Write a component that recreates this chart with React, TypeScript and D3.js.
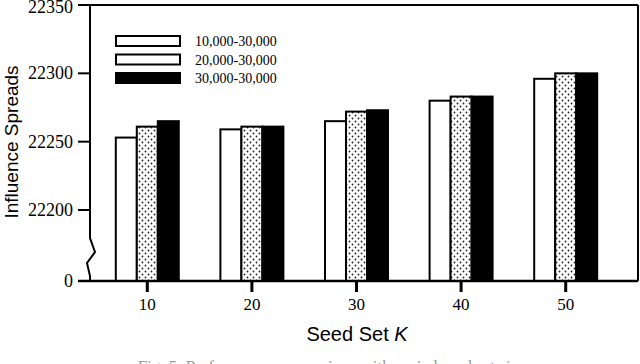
import React from 'react';
import * as d3 from 'd3';

const seedSizes = ['10', '20', '30', '40', '50'];
const seriesNames = ['10,000-30,000', '20,000-30,000', '30,000-30,000'];
const range10k = [22253, 22259, 22265, 22280, 22296];
const range20k = [22261, 22261, 22272, 22283, 22300];
const range30k = [22265, 22261, 22273, 22283, 22300];
const yTickValues = [0, 22200, 22250, 22300, 22350];

const W = 640;
const H = 364;

const App = () => {
  const left = 90;
  const right = 638;
  const top = 5;
  const bottom = 281;

  const series = [range10k, range20k, range30k];
  const fills = ['#ffffff', 'url(#dots)', '#000000'];

  // broken axis: 0 sits at the bottom, 22200..22350 above the break
  const y = d3.scaleLinear().domain([0, 22200, 22350]).range([bottom, 210, top]);

  const x = d3.scaleBand().domain(seedSizes).range([95, 618]).padding(0);
  const inner = d3.scaleBand().domain(['0', '1', '2']).range([0, 63]);
  const groupW = 63;

  const zig = `M${left},210 L${left},238 L95,252 L87,263 L${left},276 L${left},${bottom}`;

  return (
    <svg width={W} height={H} style={{ position: 'absolute', left: 0, top: 0, background: '#fff' }}>
      <defs>
        <pattern id="dots" width="6" height="6" patternUnits="userSpaceOnUse">
          <rect width="6" height="6" fill="#fff" />
          <circle cx="1.5" cy="1.5" r="0.9" fill="#222" />
          <circle cx="4.5" cy="4.5" r="0.9" fill="#222" />
        </pattern>
      </defs>

      {/* frame */}
      <line x1={left} x2={right} y1={top} y2={top} stroke="#000" strokeWidth={2} />
      <line x1={right} x2={right} y1={top} y2={bottom} stroke="#000" strokeWidth={2} />
      <path d={zig} fill="none" stroke="#000" strokeWidth={2} />
      <line x1={left} x2={left} y1={top} y2={210} stroke="#000" strokeWidth={2} />

      {/* bars */}
      {seedSizes.map((k, i) => {
        const gx = (x(k) as number) + x.bandwidth() / 2 - groupW / 2;
        return (
          <g key={k}>
            {series.map((s, j) => (
              <rect
                key={j}
                x={gx + (inner(String(j)) as number)}
                y={y(s[i])}
                width={inner.bandwidth()}
                height={bottom - y(s[i])}
                fill={fills[j]}
                stroke="#000"
                strokeWidth={2}
              />
            ))}
          </g>
        );
      })}

      <line x1={78} x2={right} y1={bottom} y2={bottom} stroke="#000" strokeWidth={2.5} />

      {/* y ticks */}
      {yTickValues.map(v => (
        <g key={v}>
          <line x1={78} x2={left} y1={y(v)} y2={y(v)} stroke="#000" strokeWidth={2} />
          <text x={73} y={Math.max(y(v) + 6, 13)} textAnchor="end" fontFamily="Liberation Serif" fontSize={18}>{v}</text>
        </g>
      ))}

      {/* x ticks */}
      {seedSizes.map(k => {
        const cx = (x(k) as number) + x.bandwidth() / 2;
        return (
          <g key={k}>
            <line x1={cx} x2={cx} y1={bottom} y2={292} stroke="#000" strokeWidth={3} />
            <text x={cx} y={310} textAnchor="middle" fontFamily="Liberation Serif" fontSize={17}>{k}</text>
          </g>
        );
      })}

      {/* legend */}
      {seriesNames.map((n, j) => (
        <g key={n}>
          <rect x={116} y={36 + j * 18.5} width={64} height={10} fill={j === 2 ? '#000' : '#fff'} stroke="#000" strokeWidth={2} />
          <text x={195} y={46 + j * 18.5} fontFamily="Liberation Serif" fontSize={14}>{n}</text>
        </g>
      ))}

      {/* axis titles */}
      <text x={357} y={341} textAnchor="middle" fontFamily="Liberation Sans" fontSize={20}>
        Seed Set <tspan fontStyle="italic">K</tspan>
      </text>
      <text transform="translate(18,142) rotate(-90)" textAnchor="middle" fontFamily="Liberation Sans" fontSize={19}>
        Influence Spreads
      </text>

      {/* caption, cut off by the picture's bottom edge */}
      <text x={335} y={372} textAnchor="middle" fontFamily="Liberation Serif" fontSize={17} fill="#999">
        Fig. 5. Performance comparison with varied seed set sizes
      </text>
    </svg>
  );
};

export default App;
